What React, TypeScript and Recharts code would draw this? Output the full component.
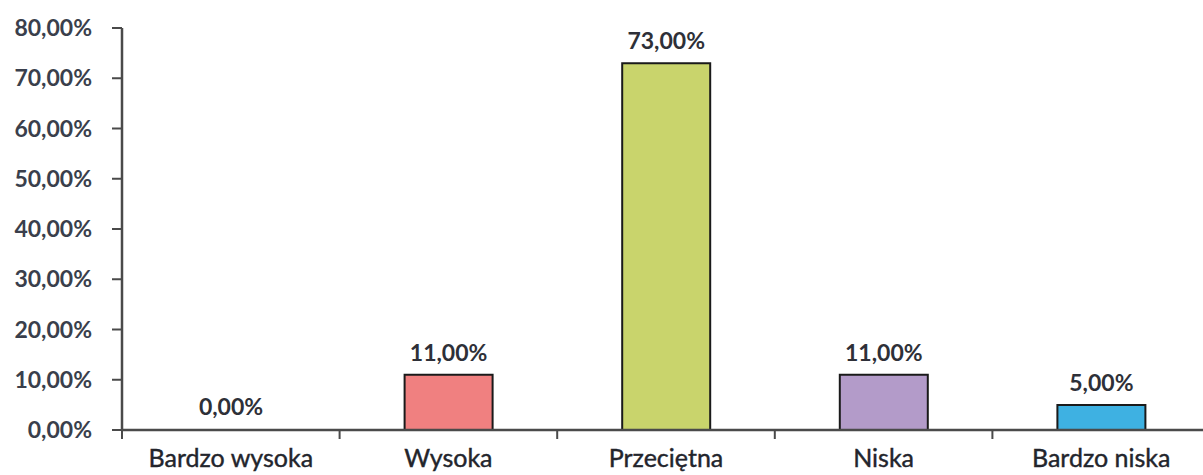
import { Bar, BarChart, Cell, LabelList, XAxis, YAxis } from "recharts";

const categories = ["Bardzo wysoka", "Wysoka", "Przeciętna", "Niska", "Bardzo niska"];
const values = [0, 11, 73, 11, 5];
const colors = ["#4f81bd", "#f08080", "#c9d46c", "#b39bc9", "#3eb1e2"];
const yTicks = [0, 10, 20, 30, 40, 50, 60, 70, 80];

const data = categories.map((name, i) => ({ name, value: values[i] }));

const pct = (v: number) => `${v.toFixed(2).replace(".", ",")}%`;
const font = "Lato, 'Open Sans', sans-serif";
const axisColor = "#4a4a4a";
const TICK_MARGIN = 19;

// category label plus a small tick mark at the left edge of each band
const CategoryTick = (props: any) => {
  const { x, y, payload } = props;
  const axisY = y - TICK_MARGIN;
  const half = payload.offset ?? 0;
  return (
    <g>
      <line x1={x - half} x2={x - half} y1={axisY} y2={axisY + 9} stroke={axisColor} strokeWidth={2} />
      <text
        x={x}
        y={y}
        dy="0.71em"
        textAnchor="middle"
        fill="#23252c"
        stroke="#23252c"
        strokeWidth={0.4}
        fontSize={25}
        fontFamily={font}
      >
        {payload.value}
      </text>
    </g>
  );
};

export default function App() {
  return (
    <div style={{ position: "absolute", left: 0, top: 0, background: "#fff" }}>
      <BarChart
        width={1203}
        height={475}
        data={data}
        margin={{ top: 28, right: -7, bottom: 0, left: 0 }}
        style={{ fontFamily: font }}
      >
        <YAxis
          domain={[0, 80]}
          ticks={yTicks}
          width={122}
          tickSize={10}
          tickMargin={20}
          tickFormatter={pct}
          axisLine={{ stroke: axisColor, strokeWidth: 2.5 }}
          tickLine={{ stroke: axisColor, strokeWidth: 2 }}
          tick={{ fill: "#3a3f4c", fontSize: 23, fontWeight: 700 }}
        />
        <XAxis
          dataKey="name"
          height={45}
          tickLine={false}
          tickSize={0}
          axisLine={{ stroke: axisColor, strokeWidth: 2.5 }}
          tickMargin={TICK_MARGIN}
          tick={<CategoryTick />}
          interval={0}
        />
        <Bar dataKey="value" barSize={88} minPointSize={1} isAnimationActive={false}>
          {data.map((_, i) => (
            <Cell
              key={i}
              fill={values[i] === 0 ? "transparent" : colors[i]}
              stroke={values[i] === 0 ? "none" : "#1a1a1a"}
              strokeWidth={2}
            />
          ))}
          <LabelList
            dataKey="value"
            position="top"
            offset={14}
            formatter={(v: number) => pct(Number(v))}
            style={{ fill: "#2e3038", fontSize: 23, fontWeight: 700, fontFamily: font }}
          />
        </Bar>
      </BarChart>
    </div>
  );
}
